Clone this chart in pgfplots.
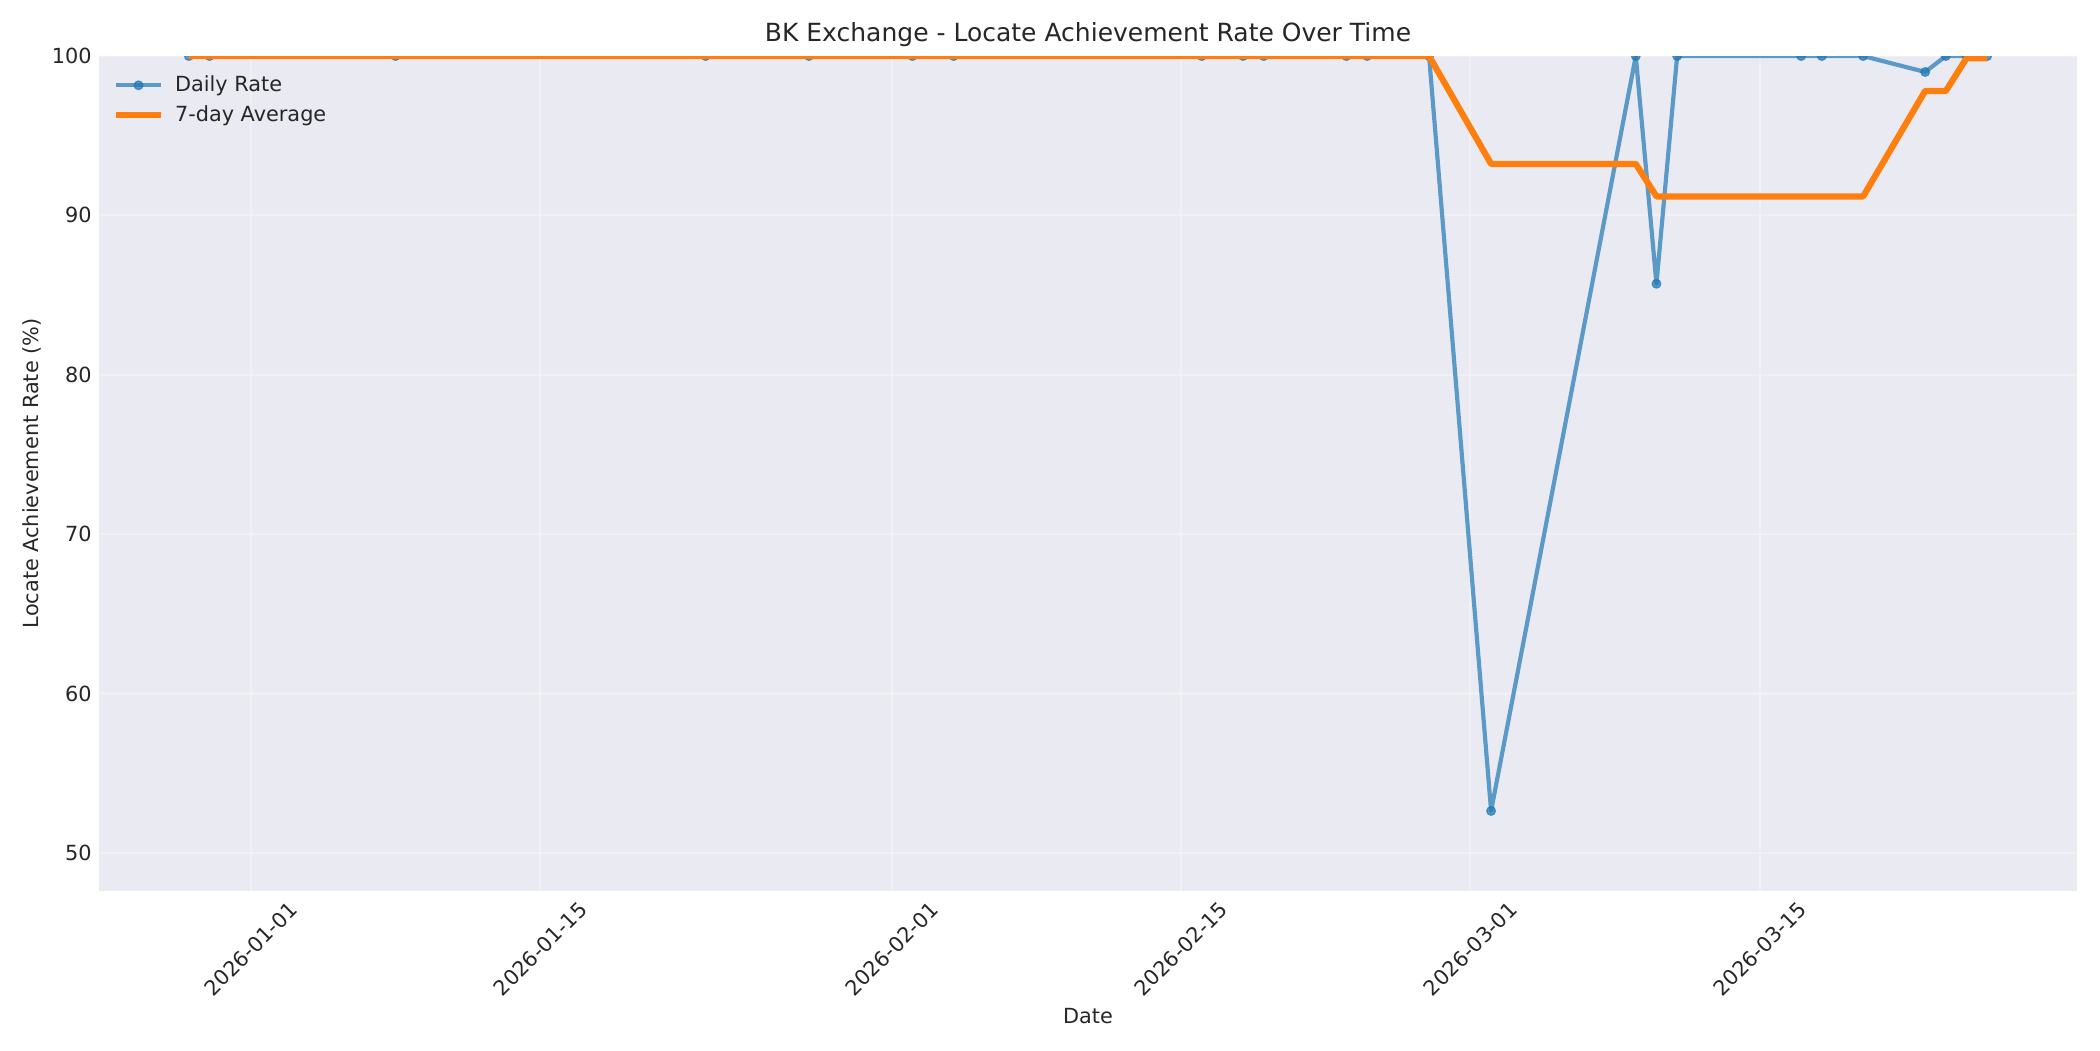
\documentclass[border=0pt]{standalone}
\usepackage{fontspec}
\setmainfont{DejaVu Sans}
\usepackage{pgfplots}
\usepackage{pgfplotstable}
\pgfplotsset{compat=1.18}

\definecolor{bg}{HTML}{EAEAF2}
\definecolor{dailyblue}{HTML}{1F77B4}
\definecolor{avgorange}{HTML}{FF7F0E}
\definecolor{txt}{HTML}{262626}

% day 0 = 2026-01-01
\pgfplotstableread{
day rate
-3 100
-2 100
7 100
22 100
27 100
32 100
34 100
46 100
48 100
49 100
53 100
54 100
57 100
60 52.63
67 100
68 85.71
69 100
75 100
76 100
78 100
81 99.0
82 100
83 100
84 100
}\daily

\pgfplotstableread{
day avg
-3 100
-2 100
7 100
22 100
27 100
32 100
34 100
46 100
48 100
49 100
53 100
54 100
57 100
60 93.23
67 93.23
68 91.19
69 91.19
75 91.19
76 91.19
78 91.19
81 97.81
82 97.81
83 99.86
84 99.86
}\weekavg

\begin{document}
\begin{tikzpicture}
\useasboundingbox (0,0) rectangle (1008pt,504pt);
\begin{axis}[
    at={(47.5pt,76.5pt)}, anchor=south west,
    scale only axis, width=949.5pt, height=400.6pt,
    xmin=-7.35, xmax=88.35, ymin=47.63, ymax=100,
    axis background/.style={fill=bg},
    axis line style={draw=none},
    major tick length=0pt,
    clip marker paths=true,
    grid=major,
    grid style={white, opacity=0.3, line width=1pt},
    ytick={50,60,70,80,90,100},
    xtick={0,14,31,45,59,73},
    xticklabels={2026-01-01,2026-01-15,2026-02-01,2026-02-15,2026-03-01,2026-03-15},
    /pgf/number format/assume math mode=true,
    tick label style={font=\fontsize{10}{12}\selectfont, text=txt},
    xticklabel style={yshift=-28pt, rotate=45, anchor=center},
    xlabel={Date},
    ylabel={Locate Achievement Rate (\%)},
    label style={font=\fontsize{10}{12}\selectfont, text=txt},
    xlabel style={at={(axis description cs:0.5,-0.1498)}, anchor=center},
    ylabel style={at={(axis description cs:-0.0338,0.5)}, anchor=center},
    title={BK Exchange - Locate Achievement Rate Over Time},
    title style={at={(axis description cs:0.5,1.0255)}, anchor=center, yshift=-6pt,
                 font=\fontsize{12}{14}\selectfont, text=txt},
    legend image code/.code={\draw[mark repeat=2,mark phase=2,#1]
        plot coordinates {(0pt,0pt) (10.8pt,0pt) (21.6pt,0pt)};
        \path (24.8pt,0pt);},
    legend cell align=left,
    legend style={at={(axis description cs:0,1)}, anchor=north west,
                  draw=none, fill=none, xshift=3.5pt, yshift=-5.3pt,
                  font=\fontsize{10}{12}\selectfont, text=txt,
                  row sep=1pt},
]
\addplot[color=dailyblue, opacity=0.7, line width=2pt, line join=round,
         mark=*, mark size=2.1pt,
         mark options={solid, fill=dailyblue, line width=0.6pt}]
    table[x=day, y=rate] {\daily};
\addlegendentry{Daily Rate}
\addplot[color=avgorange, line width=3pt, line join=round, no markers]
    table[x=day, y=avg] {\weekavg};
\addlegendentry{7-day Average}
\end{axis}
\end{tikzpicture}
\end{document}
